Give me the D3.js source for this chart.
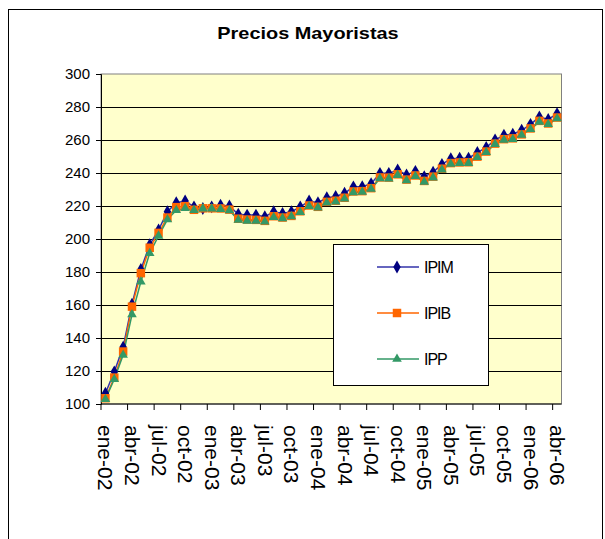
<!DOCTYPE html>
<html>
<head>
<meta charset="utf-8">
<script src="https://cdn.jsdelivr.net/npm/d3@7"></script>
<style>
  body { margin: 0; background: #fff; }
  text { font-family: "Liberation Sans", Arial, sans-serif; }
</style>
</head>
<body>
<div id="chart"></div>
<script>
// categories (one per month)
const months = [
  "ene-02","feb-02","mar-02","abr-02","may-02","jun-02","jul-02","ago-02","sep-02","oct-02","nov-02","dic-02",
  "ene-03","feb-03","mar-03","abr-03","may-03","jun-03","jul-03","ago-03","sep-03","oct-03","nov-03","dic-03",
  "ene-04","feb-04","mar-04","abr-04","may-04","jun-04","jul-04","ago-04","sep-04","oct-04","nov-04","dic-04",
  "ene-05","feb-05","mar-05","abr-05","may-05","jun-05","jul-05","ago-05","sep-05","oct-05","nov-05","dic-05",
  "ene-06","feb-06","mar-06","abr-06"
];

const ipim = [
  106.5, 119.5, 134.5, 160.5, 181.5, 196.5, 205.5, 216.5, 222.0, 223.0, 219.5, 218.5,
  219.5, 220.5, 220.0, 215.0, 214.5, 214.5, 213.5, 216.5, 215.5, 216.5, 219.5, 223.0,
  222.0, 225.0, 225.8, 227.7, 231.6, 231.7, 233.5, 239.8, 239.8, 241.8, 238.8, 241.0,
  237.8, 240.5, 245.2, 248.7, 249.0, 249.0, 252.4, 255.5, 260.1, 262.9, 263.5, 265.9,
  269.5, 274.0, 272.5, 276.0
];

const ipib = [
  103.5, 116.0, 131.8, 159.0, 179.3, 194.7, 203.7, 213.0, 219.3, 219.9, 217.7, 218.6,
  218.6, 218.5, 217.8, 212.3, 211.8, 211.6, 211.0, 213.8, 213.0, 214.0, 216.8, 220.3,
  219.5, 222.5, 223.2, 225.0, 228.8, 229.0, 230.8, 237.3, 237.2, 239.2, 236.0, 238.5,
  235.2, 237.8, 242.6, 246.0, 246.4, 246.5, 249.9, 253.0, 257.8, 260.5, 261.0, 263.4,
  267.0, 271.6, 270.0, 273.6
];

const ipp = [
  102.9, 115.0, 129.7, 154.2, 174.1, 191.4, 201.9, 211.8, 217.4, 218.6, 217.5, 218.4,
  218.4, 218.0, 217.3, 211.5, 211.0, 211.0, 210.5, 213.2, 212.5, 213.6, 216.2, 219.8,
  219.0, 222.0, 222.6, 224.4, 228.2, 228.5, 230.3, 236.7, 236.6, 238.7, 235.4, 238.0,
  234.6, 237.2, 242.0, 245.5, 246.0, 246.0, 249.5, 252.6, 257.5, 260.0, 260.5, 263.0,
  266.5, 271.0, 269.5, 273.0
];

const yTicks = [100, 120, 140, 160, 180, 200, 220, 240, 260, 280, 300];
const xLabels = months.filter((m, i) => i % 3 === 0);

const series = [
  { name: "IPIM", values: ipim, color: "#000080", line: "#3333aa", symbol: d3.symbolDiamond, size: 48 },
  { name: "IPIB", values: ipib, color: "#ff6600", line: "#ff6600", symbol: d3.symbolSquare, size: 72 },
  { name: "IPP",  values: ipp,  color: "#339966", line: "#339966", symbol: d3.symbolTriangle, size: 40 }
];

const width = 605, height = 539;
const plot = { left: 101, right: 561.5, top: 74, bottom: 404 };

const svg = d3.select("#chart").append("svg")
  .attr("width", width)
  .attr("height", height);

// chart area frame
svg.append("rect")
  .attr("x", 8.5).attr("y", 9.5)
  .attr("width", 594).attr("height", 545)
  .attr("fill", "#fff")
  .attr("stroke", "#000");

// title
svg.append("text")
  .attr("transform", "translate(308,39) scale(1.17,1)")
  .attr("text-anchor", "middle")
  .attr("font-size", 17)
  .attr("font-weight", "bold")
  .text("Precios Mayoristas");

const x = d3.scaleBand()
  .domain(months)
  .range([plot.left, plot.right])
  .padding(0);

const y = d3.scaleLinear()
  .domain([100, 300])
  .range([plot.bottom, plot.top]);

// plot area
svg.append("rect")
  .attr("x", plot.left).attr("y", plot.top)
  .attr("width", plot.right - plot.left)
  .attr("height", plot.bottom - plot.top)
  .attr("fill", "#ffffcc")
  .attr("stroke", "#808080");

// gridlines
svg.append("g")
  .selectAll("line")
  .data(yTicks.filter(t => t > 100 && t < 300))
  .join("line")
  .attr("x1", plot.left).attr("x2", plot.right)
  .attr("y1", d => Math.round(y(d)) + 0.5)
  .attr("y2", d => Math.round(y(d)) + 0.5)
  .attr("stroke", "#000");

// y axis
const yAxis = svg.append("g")
  .attr("transform", `translate(${plot.left},0)`)
  .call(d3.axisLeft(y).tickValues(yTicks).tickSize(5).tickPadding(6));
yAxis.select(".domain").attr("stroke", "#000");
yAxis.selectAll("text")
  .attr("font-size", 15)
  .attr("font-family", "Liberation Sans, Arial, sans-serif")
  .attr("fill", "#000");

// x axis: ticks every 3 months on category boundaries
const xAxisG = svg.append("g");
xAxisG.append("line")
  .attr("x1", plot.left).attr("x2", plot.right)
  .attr("y1", plot.bottom).attr("y2", plot.bottom)
  .attr("stroke", "#000");
xAxisG.selectAll("line.tick")
  .data(xLabels)
  .join("line")
  .attr("class", "tick")
  .attr("x1", d => x(d)).attr("x2", d => x(d))
  .attr("y1", plot.bottom).attr("y2", plot.bottom + 6)
  .attr("stroke", "#000");
xAxisG.selectAll("text")
  .data(xLabels)
  .join("text")
  .attr("transform", d => `translate(${x(d) + x.bandwidth() / 2 - 7},425) rotate(90)`)
  .attr("font-size", 21)
  .attr("text-anchor", "start")
  .text(d => d);

// lines and markers
const line = d3.line()
  .x((d, i) => x(months[i]) + x.bandwidth() / 2)
  .y(d => y(d));

series.forEach(s => {
  svg.append("path")
    .datum(s.values)
    .attr("fill", "none")
    .attr("stroke", s.line)
    .attr("stroke-width", 1.5)
    .attr("d", line);
});

series.forEach(s => {
  svg.append("g")
    .selectAll("path")
    .data(s.values)
    .join("path")
    .attr("transform", (d, i) => `translate(${x(months[i]) + x.bandwidth() / 2},${y(d)})`)
    .attr("d", d3.symbol().type(s.symbol).size(s.size))
    .attr("fill", s.color);
});

// legend
const legend = svg.append("g");
legend.append("rect")
  .attr("x", 333.5).attr("y", 244.5)
  .attr("width", 155).attr("height", 141)
  .attr("fill", "#fff")
  .attr("stroke", "#000");

const legendRows = legend.selectAll("g.row")
  .data(series)
  .join("g")
  .attr("class", "row")
  .attr("transform", (d, i) => `translate(0,${267 + i * 46})`);

legendRows.append("line")
  .attr("x1", 377).attr("x2", 419)
  .attr("stroke", d => d.line)
  .attr("stroke-width", 1.5);
legendRows.append("path")
  .attr("transform", "translate(397,0)")
  .attr("d", d => d3.symbol().type(d.symbol).size(d.size)())
  .attr("fill", d => d.color);
legendRows.append("text")
  .attr("x", 424)
  .attr("y", 6)
  .attr("font-size", 16)
  .attr("letter-spacing", -1)
  .text(d => d.name);
</script>
</body>
</html>
